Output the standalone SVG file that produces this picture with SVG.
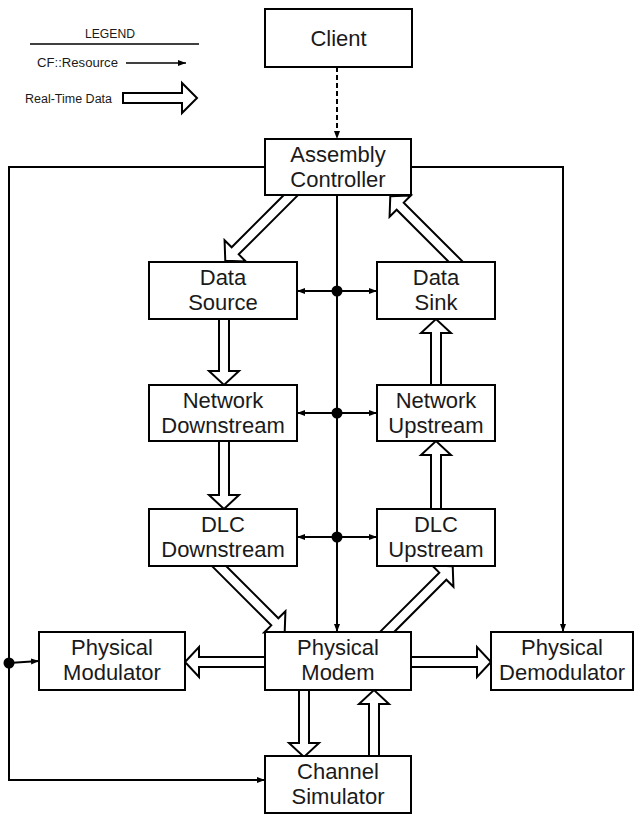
<svg xmlns="http://www.w3.org/2000/svg" width="634" height="814" viewBox="0 0 634 814">
<style>
.box{fill:#fff;stroke:#000;stroke-width:2}
.t{font-family:"Liberation Sans",Arial,sans-serif;font-size:22px;text-anchor:middle;fill:#1a1a1a}
.lg{font-family:"Liberation Sans",Arial,sans-serif;font-size:12px;fill:#1a1a1a}
.ln{fill:none;stroke:#000;stroke-width:2}
.blk{fill:#fff;stroke:#000;stroke-width:2;stroke-linejoin:miter}
.dot{fill:#000}
</style>
<defs>
<marker id="ah" viewBox="0 0 8 8" refX="8" refY="4" markerWidth="8" markerHeight="8" markerUnits="userSpaceOnUse" orient="auto-start-reverse">
<path d="M0,1 L8,4 L0,7 Z" fill="#000"/>
</marker>
</defs>
<g id="legend">
<text class="lg" x="110" y="38" text-anchor="middle" textLength="50" lengthAdjust="spacingAndGlyphs">LEGEND</text>
<line x1="30" y1="44" x2="199" y2="44" stroke="#000" stroke-width="1.5"/>
<text class="lg" x="37" y="67" textLength="81" lengthAdjust="spacingAndGlyphs">CF::Resource</text>
<line x1="126" y1="63" x2="186" y2="63" stroke="#000" stroke-width="1.5" marker-end="url(#ah)"/>
<text class="lg" x="25" y="103" textLength="87" lengthAdjust="spacingAndGlyphs">Real-Time Data</text>
<polygon class="blk" points="123,93 182,93 182,83 197,98 182,113 182,103 123,103"/>
</g>
<g id="connectors">
<line class="ln" x1="337" y1="67" x2="337" y2="139" stroke-dasharray="5,3" marker-end="url(#ah)"/>
<line class="ln" x1="337" y1="195" x2="337" y2="632" marker-end="url(#ah)"/>
<line class="ln" x1="297" y1="291" x2="377" y2="291" marker-start="url(#ah)" marker-end="url(#ah)"/>
<line class="ln" x1="297" y1="413" x2="377" y2="413" marker-start="url(#ah)" marker-end="url(#ah)"/>
<line class="ln" x1="297" y1="537" x2="377" y2="537" marker-start="url(#ah)" marker-end="url(#ah)"/>
<circle class="dot" cx="337" cy="291" r="5.5"/>
<circle class="dot" cx="337" cy="413" r="5.5"/>
<circle class="dot" cx="337" cy="537" r="5.5"/>
<polyline class="ln" points="265,167 9,167 9,780 265,780" marker-end="url(#ah)"/>
<circle class="dot" cx="9" cy="663" r="5.5"/>
<line class="ln" x1="9" y1="663" x2="39" y2="661" marker-end="url(#ah)"/>
<polyline class="ln" points="411,167 563,167 563,632" marker-end="url(#ah)"/>
<polygon class="blk" transform="translate(296.7,189.3) rotate(135)" points="0,-5 87,-5 87,-15 101,0 87,15 87,5 0,5"/>
<polygon class="blk" transform="translate(461.7,267.7) rotate(-135)" points="0,-5 87,-5 87,-15 101,0 87,15 87,5 0,5"/>
<polygon class="blk" transform="translate(224,311) rotate(90)" points="0,-5 60,-5 60,-15 74,0 60,15 60,5 0,5"/>
<polygon class="blk" transform="translate(224,433) rotate(90)" points="0,-5 62,-5 62,-15 76,0 62,15 62,5 0,5"/>
<polygon class="blk" transform="translate(436,393) rotate(-90)" points="0,-5 60,-5 60,-15 74,0 60,15 60,5 0,5"/>
<polygon class="blk" transform="translate(436,517) rotate(-90)" points="0,-5 62,-5 62,-15 76,0 62,15 62,5 0,5"/>
<polygon class="blk" transform="translate(213.3,560.3) rotate(45)" points="0,-5 87,-5 87,-15 101,0 87,15 87,5 0,5"/>
<polygon class="blk" transform="translate(381.3,637.7) rotate(-45)" points="0,-5 87,-5 87,-15 101,0 87,15 87,5 0,5"/>
<polygon class="blk" transform="translate(273,662) rotate(180)" points="0,-5 74,-5 74,-15 88,0 74,15 74,5 0,5"/>
<polygon class="blk" transform="translate(403,662)" points="0,-5 74,-5 74,-15 88,0 74,15 74,5 0,5"/>
<polygon class="blk" transform="translate(304,682) rotate(90)" points="0,-5 61,-5 61,-15 75,0 61,15 61,5 0,5"/>
<polygon class="blk" transform="translate(374,764) rotate(-90)" points="0,-5 60,-5 60,-15 74,0 60,15 60,5 0,5"/>
</g>
<g id="client"><rect class="box" x="265" y="9" width="147" height="58"/><text class="t" x="338.5" y="46">Client</text></g>
<g id="assembly-controller"><rect class="box" x="265" y="139" width="146" height="56"/><text class="t" x="338" y="162">Assembly</text><text class="t" x="338" y="187">Controller</text></g>
<g id="data-source"><rect class="box" x="149" y="262" width="148" height="57"/><text class="t" x="223" y="285">Data</text><text class="t" x="223" y="310">Source</text></g>
<g id="data-sink"><rect class="box" x="377" y="262" width="118" height="57"/><text class="t" x="436" y="285">Data</text><text class="t" x="436" y="310">Sink</text></g>
<g id="network-downstream"><rect class="box" x="149" y="385" width="148" height="56"/><text class="t" x="223" y="408">Network</text><text class="t" x="223" y="433">Downstream</text></g>
<g id="network-upstream"><rect class="box" x="377" y="385" width="118" height="56"/><text class="t" x="436" y="408">Network</text><text class="t" x="436" y="433">Upstream</text></g>
<g id="dlc-downstream"><rect class="box" x="149" y="509" width="148" height="57"/><text class="t" x="223" y="532">DLC</text><text class="t" x="223" y="557">Downstream</text></g>
<g id="dlc-upstream"><rect class="box" x="377" y="509" width="118" height="57"/><text class="t" x="436" y="532">DLC</text><text class="t" x="436" y="557">Upstream</text></g>
<g id="physical-modulator"><rect class="box" x="39" y="632" width="146" height="58"/><text class="t" x="112" y="655">Physical</text><text class="t" x="112" y="680">Modulator</text></g>
<g id="physical-modem"><rect class="box" x="265" y="632" width="146" height="58"/><text class="t" x="338" y="655">Physical</text><text class="t" x="338" y="680">Modem</text></g>
<g id="physical-demodulator"><rect class="box" x="491" y="632" width="142" height="58"/><text class="t" x="562" y="655">Physical</text><text class="t" x="562" y="680">Demodulator</text></g>
<g id="channel-simulator"><rect class="box" x="265" y="756" width="146" height="57"/><text class="t" x="338" y="779">Channel</text><text class="t" x="338" y="804">Simulator</text></g>
</svg>
